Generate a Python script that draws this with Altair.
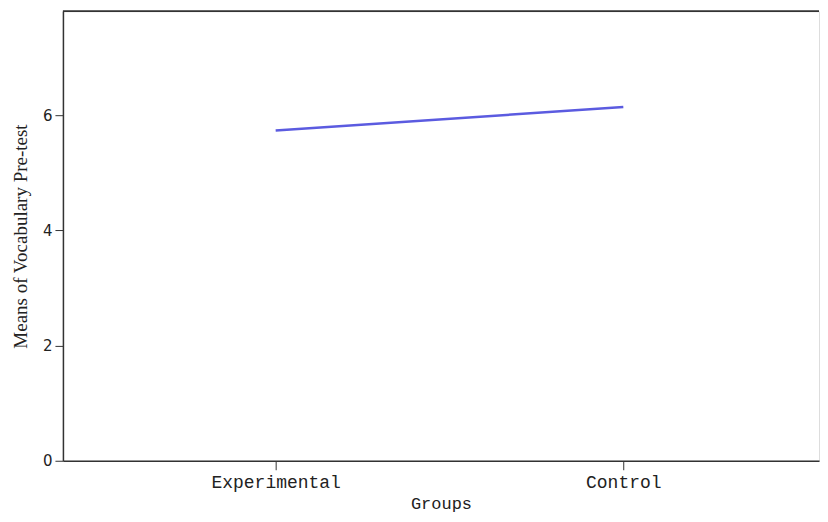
import altair as alt
import pandas as pd

groups = ["Experimental", "Control"]
means = [5.73, 6.14]

W = 757
H = 450

df = pd.DataFrame({"Groups": groups, "Mean": means, "idx": list(range(len(groups)))})

label_expr = "datum.value == 0 ? 'Experimental' : (datum.value == 1 ? 'Control' : '')"

line = alt.Chart(df).mark_line(color="#5b5be0", strokeWidth=2.5).encode(
    x=alt.X("idx:Q", title="Groups",
            scale=alt.Scale(domain=[-0.612, 1.563], nice=False, zero=False),
            axis=alt.Axis(values=[0, 1], labelExpr=label_expr, labelAngle=0, tickSize=9,
                          labelPadding=4, titlePadding=4,
                          labelFont="Liberation Mono", labelFontSize=18, labelColor="#222",
                          titleFont="Liberation Mono", titleFontSize=17, titleFontWeight="normal",
                          titleColor="#222", domainColor="#333", tickColor="#333",
                          domainWidth=1.5, grid=False)),
    y=alt.Y("Mean:Q", title="Means of Vocabulary Pre-test",
            scale=alt.Scale(domain=[0, 7.8], nice=False),
            axis=alt.Axis(values=[0, 2, 4, 6], tickSize=8, labelPadding=3, titlePadding=12,
                          labelFont="DejaVu Sans", labelFontSize=15, labelColor="#222",
                          titleFont="Liberation Serif", titleFontSize=19, titleFontWeight="normal",
                          titleColor="#222", domainColor="#333", tickColor="#333",
                          domainWidth=1.5, grid=False)),
)

top = alt.Chart(df).mark_rule(color="#333", strokeWidth=1.5).encode(
    y=alt.value(0), x=alt.value(0), x2=alt.value(W)
)

chart = alt.layer(line, top).properties(
    width=W, height=H, padding={"left": 3, "top": 2, "right": 0, "bottom": 2}
).configure_view(stroke=None).configure(background="white")

chart.save("out.html", embed_options={"renderer": "svg", "actions": False})
